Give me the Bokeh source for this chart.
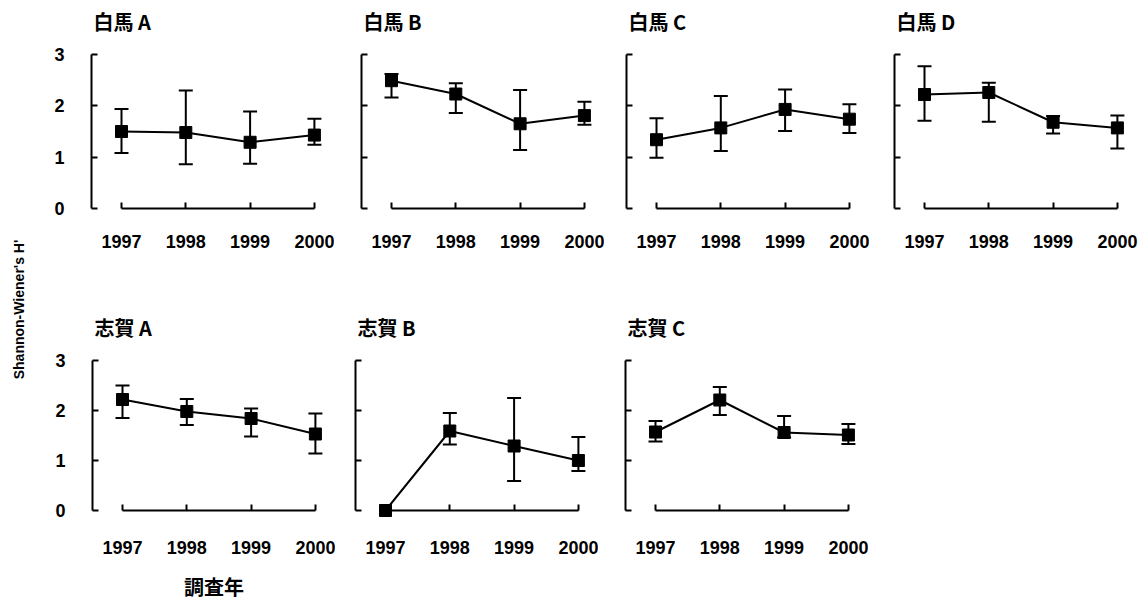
import math
from bokeh.plotting import figure
from bokeh.models import (ColumnDataSource, Whisker, TeeHead, LinearAxis,
                          FixedTicker, Range1d, Label, Title)
from bokeh.layouts import row, column
from bokeh.embed import file_html
from bokeh.resources import INLINE

# ---------------- data ----------------
years = [1997, 1998, 1999, 2000]
y_ticks = [0, 1, 2, 3]
panel_titles = ["白馬 A", "白馬 B", "白馬 C", "白馬 D", "志賀 A", "志賀 B", "志賀 C"]
y_title = "Shannon-Wiener's H'"
x_title = "調査年"

hakuba_a_mean = [1.50, 1.48, 1.29, 1.43]
hakuba_a_upper = [1.94, 2.30, 1.89, 1.75]
hakuba_a_lower = [1.08, 0.86, 0.87, 1.24]

hakuba_b_mean = [2.49, 2.23, 1.65, 1.81]
hakuba_b_upper = [2.62, 2.44, 2.31, 2.08]
hakuba_b_lower = [2.16, 1.86, 1.14, 1.63]

hakuba_c_mean = [1.34, 1.57, 1.93, 1.74]
hakuba_c_upper = [1.76, 2.19, 2.32, 2.03]
hakuba_c_lower = [0.99, 1.12, 1.51, 1.47]

hakuba_d_mean = [2.22, 2.26, 1.68, 1.57]
hakuba_d_upper = [2.77, 2.45, 1.80, 1.81]
hakuba_d_lower = [1.71, 1.69, 1.46, 1.17]

shiga_a_mean = [2.22, 1.98, 1.84, 1.53]
shiga_a_upper = [2.50, 2.23, 2.04, 1.94]
shiga_a_lower = [1.85, 1.71, 1.48, 1.14]

shiga_b_mean = [0.00, 1.59, 1.29, 1.00]
shiga_b_upper = [None, 1.95, 2.25, 1.47]
shiga_b_lower = [None, 1.32, 0.59, 0.79]

shiga_c_mean = [1.57, 2.21, 1.56, 1.51]
shiga_c_upper = [1.79, 2.47, 1.89, 1.73]
shiga_c_lower = [1.38, 1.91, 1.46, 1.33]

series = [
    (hakuba_a_mean, hakuba_a_upper, hakuba_a_lower),
    (hakuba_b_mean, hakuba_b_upper, hakuba_b_lower),
    (hakuba_c_mean, hakuba_c_upper, hakuba_c_lower),
    (hakuba_d_mean, hakuba_d_upper, hakuba_d_lower),
    (shiga_a_mean, shiga_a_upper, shiga_a_lower),
    (shiga_b_mean, shiga_b_upper, shiga_b_lower),
    (shiga_c_mean, shiga_c_upper, shiga_c_lower),
]

# ---------------- layout / style ----------------
NUM_FONT = "Liberation Sans"
CJK_FONT = "Noto Sans CJK JP"
PX_PER_YEAR = 64.3
AXIS_GAP = 30.0   # pixels between y axis and first year
X_START = 1997 - AXIS_GAP / PX_PER_YEAR

# (fig width, border left, frame width)
col_geom_row1 = [(286, 43, 243), (270, 27, 243), (265, 22, 243), (269, 25, 244)]
col_geom_row2 = [(287, 44, 243), (263, 20, 243), (270, 27, 243)]
# (fig height, border top, frame height, px per unit, title pad, x label standoff)
row_geom = [(280, 54, 167, 51.33, 19, 13), (325, 80, 163, 50.0, 19, 17)]


def make_panel(title, mean, upper, lower, cg, rg, first_col, add_xtitle=False):
    fw, bl, frw = cg
    fh, bt, frh, ppu, tpad, xstand = rg
    pad = frh / ppu - 3.0
    x_end = X_START + frw / PX_PER_YEAR
    p = figure(width=fw, height=fh,
               x_range=Range1d(X_START, x_end), y_range=Range1d(-pad, 3.0),
               x_axis_type=None, y_axis_type=None,
               min_border_left=bl, min_border_right=fw - bl - frw,
               min_border_top=bt, min_border_bottom=fh - bt - frh,
               output_backend="svg", toolbar_location=None)
    p.outline_line_color = None
    p.background_fill_color = "white"
    p.border_fill_color = "white"
    p.title = Title(text=title, align="left", offset=2, standoff=0,
                    padding=dict(left=0, right=0, top=0, bottom=tpad),
                    text_font=CJK_FONT, text_font_style="bold",
                    text_font_size="20px", text_color="black")

    yaxis = LinearAxis(ticker=FixedTicker(ticks=y_ticks), bounds=(0, 3),
                       major_tick_in=6, major_tick_out=0,
                       minor_tick_in=0, minor_tick_out=0,
                       axis_line_width=2, axis_line_color="black",
                       major_tick_line_width=2, major_tick_line_color="black",
                       major_label_text_font=NUM_FONT,
                       major_label_text_font_style="bold",
                       major_label_text_font_size="18px",
                       major_label_text_color="black",
                       major_label_standoff=27 if first_col else 0)
    if not first_col:
        yaxis.major_label_overrides = {t: "" for t in y_ticks}
    p.add_layout(yaxis, "left")

    # year labels (axis attached to the frame bottom, no line / ticks)
    xlabels = LinearAxis(ticker=FixedTicker(ticks=years),
                         axis_line_color=None, major_tick_line_color=None,
                         minor_tick_line_color=None,
                         major_tick_in=0, major_tick_out=0,
                         minor_tick_in=0, minor_tick_out=0,
                         major_label_text_font=NUM_FONT,
                         major_label_text_font_style="bold",
                         major_label_text_font_size="18px",
                         major_label_text_color="black",
                         major_label_standoff=xstand)
    if add_xtitle:
        xlabels.axis_label = x_title
        xlabels.axis_label_text_font = CJK_FONT
        xlabels.axis_label_text_font_style = "bold"
        xlabels.axis_label_text_font_size = "20px"
        xlabels.axis_label_text_color = "black"
        xlabels.axis_label_standoff = 15
    p.add_layout(xlabels, "below")

    # x axis line with ticks at y = 0
    xaxis = LinearAxis(ticker=FixedTicker(ticks=years), bounds=(1997, 2000),
                       fixed_location=0,
                       major_tick_in=6, major_tick_out=0,
                       minor_tick_in=0, minor_tick_out=0,
                       axis_line_width=2, axis_line_color="black",
                       major_tick_line_width=2, major_tick_line_color="black",
                       major_label_text_font_size="0px",
                       major_label_standoff=0)
    xaxis.major_label_overrides = {t: "" for t in years}
    p.add_layout(xaxis, "below")

    src = ColumnDataSource(dict(year=years, mean=mean))
    ey = [y for y, u in zip(years, upper) if u is not None]
    eu = [u for u in upper if u is not None]
    el = [l for l in lower if l is not None]
    esrc = ColumnDataSource(dict(year=ey, upper=eu, lower=el))
    wh = Whisker(base="year", upper="upper", lower="lower", source=esrc,
                 line_width=2, line_color="black",
                 upper_head=TeeHead(size=14, line_width=2, line_color="black"),
                 lower_head=TeeHead(size=14, line_width=2, line_color="black"))
    p.add_layout(wh)
    p.line(x="year", y="mean", source=src, line_width=2, line_color="black")
    p.scatter(x="year", y="mean", source=src, marker="square", size=12,
              fill_color="black", line_color="black")
    return p


row1 = []
for i in range(4):
    m, u, l = series[i]
    row1.append(make_panel(panel_titles[i], m, u, l, col_geom_row1[i],
                           row_geom[0], i == 0))
row2 = []
for j in range(3):
    i = 4 + j
    m, u, l = series[i]
    row2.append(make_panel(panel_titles[i], m, u, l, col_geom_row2[j],
                           row_geom[1], j == 0, add_xtitle=(j == 0)))

total_h = row_geom[0][0] + row_geom[1][0]
ylab = figure(width=48, height=total_h, x_range=Range1d(0, 48),
              y_range=Range1d(0, total_h), x_axis_type=None, y_axis_type=None,
              min_border=0, min_border_left=0, min_border_right=0,
              min_border_top=0, min_border_bottom=0,
              output_backend="svg", toolbar_location=None)
ylab.outline_line_color = None
ylab.add_layout(Label(x=18, y=total_h - 309, angle=math.pi / 2, text=y_title,
                      text_font=NUM_FONT, text_font_style="bold",
                      text_font_size="14px", text_color="black",
                      text_align="center", text_baseline="middle"))

layout = row(ylab, column(row(*row1), row(*row2)))
open("out.html", "w").write(file_html(layout, INLINE))
